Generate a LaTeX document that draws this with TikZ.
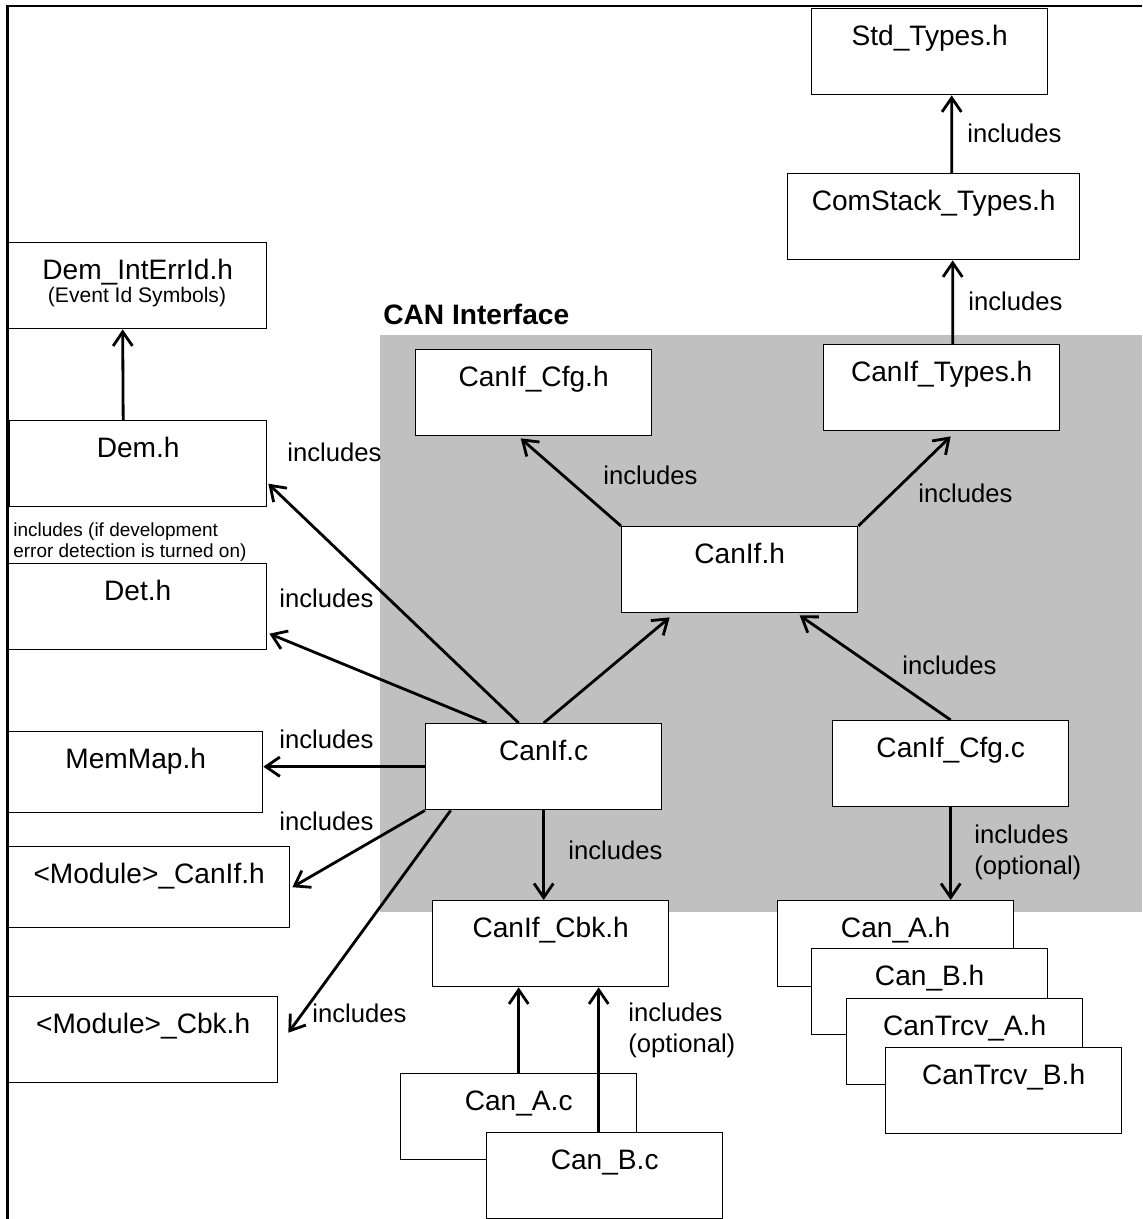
\documentclass[tikz,border=0pt]{standalone}
\usepackage{fontspec}
\setmainfont{Liberation Sans}
\usetikzlibrary{arrows.meta,calc}
\definecolor{ifaceGray}{RGB}{192,192,192}

\begin{document}
\begin{tikzpicture}[x=0.02cm,y=-0.02cm,
  file/.style={draw,fill=white,line width=0.8pt,anchor=north west,
    minimum width=4.72cm,inner ysep=0pt,text height=0.74cm,text depth=0.98cm,
    font=\fontsize{16}{19}\selectfont},
  incl/.style={-{Straight Barb[length=8pt,width=11pt]},line width=1.6pt},
  lbl/.style={anchor=west,inner sep=0pt,font=\fontsize{14.6}{17.5}\selectfont}]
  \useasboundingbox (0,0) rectangle (1142,1219);
  \draw[line width=1.4pt] (7.5,1219) -- (7.5,6) -- (1142,6);
  % CAN Interface
  \fill[ifaceGray] (380,335) rectangle (1142,912);
  \node[anchor=west,inner sep=0pt,font=\bfseries\fontsize{16}{19}\selectfont] (iface) at (383,314) {CAN Interface};
  % Files
  \node[file] (std) at (811,8) {Std\_Types.h};
  \node[file,minimum width=5.84cm] (comstack) at (787,173) {ComStack\_Types.h};
  \node[file,minimum width=5.16cm] (demint) at (8,242) {Dem\_IntErrId.h};
  \node[font=\fontsize{12}{14}\selectfont,inner sep=0pt] (demsub) at (137,297) {(Event Id Symbols)};
  \node[file,minimum width=5.14cm] (dem) at (9,420) {Dem.h};
  \node[file,minimum width=5.16cm] (det) at (8,563) {Det.h};
  \node[file,minimum width=5.08cm,text depth=0.88cm] (memmap) at (8,731) {MemMap.h};
  \node[file,minimum width=5.62cm,text depth=0.88cm] (modcanif) at (8,846) {<Module>\_CanIf.h};
  \node[file,minimum width=5.38cm] (modcbk) at (8,996) {<Module>\_Cbk.h};
  \node[file] (canifcfgh) at (415,349) {CanIf\_Cfg.h};
  \node[file] (caniftypes) at (823,344) {CanIf\_Types.h};
  \node[file] (canifh) at (621,526) {CanIf.h};
  \node[file] (canifc) at (425,723) {CanIf.c};
  \node[file] (canifcfgc) at (832,720) {CanIf\_Cfg.c};
  \node[file] (canifcbk) at (432,900) {CanIf\_Cbk.h};
  \node[file] (canac) at (400,1073) {Can\_A.c};
  \node[file] (canbc) at (486,1132) {Can\_B.c};
  \node[file] (canah) at (777,900) {Can\_A.h};
  \node[file] (canbh) at (811,948) {Can\_B.h};
  \node[file] (cantrcva) at (846,998) {CanTrcv\_A.h};
  \node[file] (cantrcvb) at (885,1047) {CanTrcv\_B.h};
  % Includes
  \draw[incl] ($(comstack.north)+(18,0)$) -- ($(std.south)+(22,0)$);
  \draw[incl] ($(caniftypes.north)+(11,0)$) -- ($(comstack.south)+(19,0)$);
  \draw[incl] (canifh.north east) -- ($(caniftypes.south)+(9,5)$);
  \draw[incl] (canifh.north west) -- ($(canifcfgh.south)+(-13,2)$);
  \draw[incl] (canifc.north) -- ($(canifh.south)+(-70,4)$);
  \draw[incl] (canifcfgc.north) -- ($(canifh.south)+(60,2)$);
  \draw[incl] ($(canifc.north)+(-25,0)$) -- ($(dem.east)+(1,20)$);
  \draw[incl] ($(canifc.north)+(-57,0)$) -- ($(det.east)+(2,27)$);
  \draw[incl] (canifc.west) -- (canifc.west -| memmap.east);
  \draw[incl] (canifc.south west) -- ($(modcanif.east)+(2,0)$);
  \draw[incl] ($(canifc.south)+(-93,0)$) -- ($(modcbk.east)+(10,-7)$);
  \draw[incl] (canifc.south) -- (canifc.south |- canifcbk.north);
  \draw[incl] (canac.north) -- (canac.north |- canifcbk.south);
  \draw[incl] ($(canbc.north)+(-6,0)$) -- ($(canbc.north |- canifcbk.south)+(-6,0)$);
  \draw[incl] (canifcfgc.south) -- (canifcfgc.south |- canah.north);
  \draw[incl] ($(dem.north)+(-15,0)$) -- ($(demint.south)+(-15,0)$);
  % Labels
  \node[lbl] (l1) at (967,133) {includes};
  \node[lbl] (l2) at (968,301) {includes};
  \node[lbl] (l3) at (603,475) {includes};
  \node[lbl] (l4) at (918,493) {includes};
  \node[lbl] (l5) at (902,665) {includes};
  \node[lbl] (l6) at (287,452) {includes};
  \node[lbl] (l7) at (279,598) {includes};
  \node[lbl,align=left,font=\fontsize{10.8}{11.9}\selectfont] (l8) at (13,542.5) {includes (if development\\error detection is turned on)};
  \node[lbl] (l9) at (279,739) {includes};
  \node[lbl] (l10) at (279,821) {includes};
  \node[lbl] (l11) at (312,1013) {includes};
  \node[lbl] (l12) at (568,850) {includes};
  \node[lbl,align=left] (l13) at (628,1030) {includes\\(optional)};
  \node[lbl,align=left] (l14) at (974,852) {includes\\(optional)};
\end{tikzpicture}
\end{document}
